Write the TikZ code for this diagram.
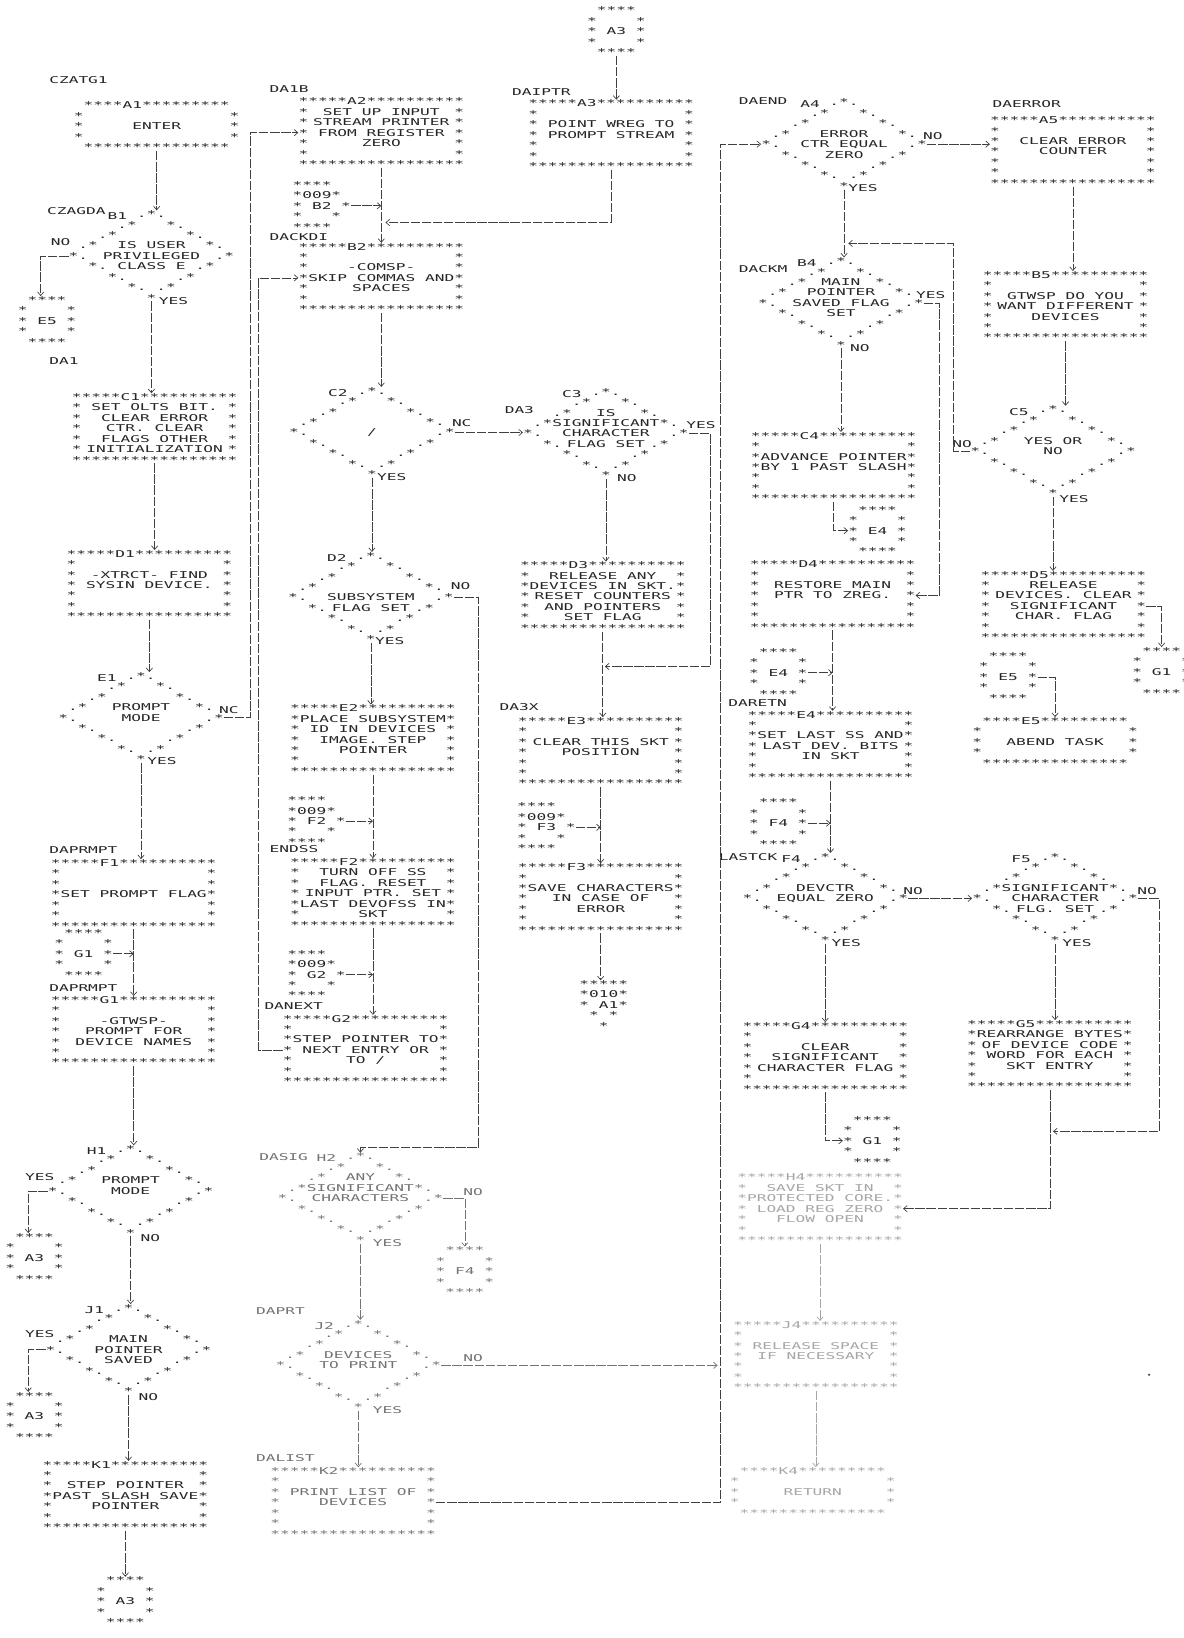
\documentclass[tikz,border=0pt]{standalone}
\usepackage{fontspec}
\newfontfamily\lpmono[FakeStretch=1.72]{DejaVu Sans Mono}
\usetikzlibrary{arrows.meta}
\newcommand\ascfont{\lpmono\fontsize{9}{10}\selectfont}
\makeatletter
\def\asc#1{\leavevmode\asc@loop#1\relax}
\def\asc@loop#1{\ifx#1\relax\else\ifx#1_\phantom{0}\else#1\fi\expandafter\asc@loop\fi}
\makeatother
\newcommand\Drow[2]{\leavevmode\setbox0=\hbox{\asc{#1}}\rlap{\copy0}\hbox to \wd0{\hss#2\hss}}
\newcommand\Brow[1]{\Drow{*_______________*}{#1}}
\newcommand\Trow[1]{\asc{*****}#1\asc{**********}}
\newcommand\Brule{\asc{*****************}}
\newcommand\PBox[9][]{\node[asc,#1] (#2) at (#3) {\Trow{#4}\\\Brow{#5}\\\Brow{#6}\\\Brow{#7}\\\Brow{#8}\\\Brow{#9}\\\Brule};}
\newcommand\DBox[9][]{\node[asc,#1] (#2) at (#3) {\asc{____}\smash{\raisebox{-2pt}{#4}}\asc{_.*._______}\\\asc{_____.*___*._____}\\\Drow{___.*_______*.___}{#5}\\\Drow{_.*___________*._}{#6}\\\Drow{*._____________.*}{#7}\\\Drow{__*._________.*__}{#8}\\\Drow{____*._____.*____}{#9}\\\asc{______*._.*______}\\\asc{________*________}};}
\newcommand\TBox[5][]{\node[asc,#1] (#2) at (#3) {\asc{_****}#4\asc{*********_}\\\asc{*_______________*}\\\Brow{#5}\\\asc{*_______________*}\\\asc{_***************_}};}
\newcommand\CBox[4][]{\node[asc,#1] (#2) at (#3) {\asc{_****_}\\\asc{*____*}\\\Drow{*____*}{#4}\\\asc{*____*}\\\asc{_****_}};}
\newcommand\OBox[5][]{\node[asc,#1] (#2) at (#3) {\asc{****__}\\\asc{*}#4\asc{*_}\\\asc{*_}#5\asc{_*}\\\asc{*___*_}\\\asc{****__}};}
\newcommand\XBox[5][]{\node[asc,#1] (#2) at (#3) {\asc{*****}\\\asc{*}#4\asc{*}\\\asc{*_}#5\asc{*}\\\asc{_*_*_}\\\asc{__*__}};}
\begin{document}
\begin{tikzpicture}[x=1pt,y=-1pt,
  asc/.style={font=\ascfont, align=left, inner sep=0pt, text=black!85},
  light/.style={text=black!55},
  faint/.style={text=black!35},
  lbl/.style={font=\ascfont, inner sep=0pt, text=black!85},
  conn/.style={draw=black!75, line width=0.65pt, dash pattern=on 9pt off 1.6pt,
    -{Straight Barb[length=3.5pt,width=6pt,line width=0.65pt]}},
  faintl/.style={draw=black!35}]
\fill[white] (0,0) rectangle (1133,1568);
\useasboundingbox (0,0) rectangle (1133,1568);

% ---------------- column 1
\node[lbl,anchor=west] (lCZATG1) at (47,77) {CZATG1};
\TBox{A1}{150,121}{A1}{ENTER}
\node[lbl,anchor=west] (lCZAGDA) at (45,202) {CZAGDA};
\DBox{B1}{145,245}{B1}{}{IS USER}{PRIVILEGED}{CLASS E}{}
\node[lbl] (nB1) at (58,232) {NO};
\node[lbl] (yB1) at (166,288) {YES};
\CBox{E5c}{45,307}{E5}
\node[lbl,anchor=west] (lDA1) at (47,346) {DA1};
\PBox{C1}{148,410}{C1}{SET OLTS BIT.}{CLEAR ERROR}{CTR. CLEAR}{FLAGS OTHER}{INITIALIZATION}
\PBox{D1}{143,560}{D1}{}{-XTRCT- FIND}{SYSIN DEVICE.}{}{}
\DBox{E1}{135,687}{E1}{}{PROMPT}{MODE}{}{}
\node[lbl] (nE1) at (219,680) {NC};
\node[lbl] (yE1) at (155,729) {YES};
\node[lbl,anchor=west] (lDAPRMPT1) at (47,814) {DAPRMPT};
\PBox{F1}{128,856}{F1}{}{}{SET PROMPT FLAG}{}{}
\CBox{G1c}{80,913}{G1}
\node[lbl,anchor=west] (lDAPRMPT2) at (47,946) {DAPRMPT};
\PBox{G1}{128,987}{G1}{}{-GTWSP-}{PROMPT FOR}{DEVICE NAMES}{}
\DBox{H1}{125,1140}{H1}{}{PROMPT}{MODE}{}{}
\node[lbl] (yH1) at (38,1127) {YES};
\node[lbl] (nH1) at (144,1185) {NO};
\CBox{A3a}{33,1204}{A3}
\DBox{J1}{123,1292}{J1}{}{MAIN}{POINTER}{SAVED}{}
\node[lbl] (yJ1) at (38,1277) {YES};
\node[lbl] (nJ1) at (142,1337) {NO};
\CBox{A3b}{33,1356}{A3}
\PBox{K1}{120,1432}{K1}{}{STEP POINTER}{PAST SLASH SAVE}{POINTER}{}
\CBox{A3c}{120,1533}{A3}

% ---------------- column 2
\node[lbl,anchor=west] (lDA1B) at (258,85) {DA1B};
\PBox{A2}{365,127}{A2}{SET UP INPUT}{STREAM PRINTER}{FROM REGISTER}{ZERO}{}
\OBox{B2o}{308,197}{009}{B2}
\node[lbl,anchor=west] (lDACKDI) at (258,227) {DACKDI};
\PBox{B2}{365,266}{B2}{}{-COMSP-}{SKIP COMMAS AND}{SPACES}{}
\DBox{C2}{356,414}{C2}{}{}{/}{}{}
\node[lbl] (nC2) at (442,405) {NC};
\node[lbl] (yC2) at (375,457) {YES};
\DBox{D2}{355,572}{D2}{}{}{SUBSYSTEM}{FLAG SET}{}
\node[lbl] (nD2) at (441,561) {NO};
\node[lbl] (yD2) at (373,614) {YES};
\PBox{E2}{357,708}{E2}{PLACE SUBSYSTEM}{ID IN DEVICES}{IMAGE. STEP}{POINTER}{}
\OBox{F2o}{303,786}{009}{F2}
\node[lbl,anchor=west] (lENDSS) at (258,813) {ENDSS};
\PBox{F2}{357,855}{F2}{TURN OFF SS}{FLAG. RESET}{INPUT PTR. SET}{LAST DEVOFSS IN}{SKT}
\OBox{G2o}{303,933}{009}{G2}
\node[lbl,anchor=west] (lDANEXT) at (253,963) {DANEXT};
\PBox{G2}{350,1005}{G2}{}{STEP POINTER TO}{NEXT ENTRY OR}{TO /}{}
\node[lbl,anchor=west,light] (lDASIG) at (248,1108) {DASIG};
\DBox[light]{H2}{345,1147}{H2}{ANY}{SIGNIFICANT}{CHARACTERS}{}{}
\node[lbl,light] (nH2) at (453,1141) {NO};
\node[lbl,light] (yH2) at (371,1190) {YES};
\CBox[light]{F4c}{445,1217}{F4}
\node[lbl,anchor=west,light] (lDAPRT) at (245,1255) {DAPRT};
\DBox[light]{J2}{343,1307}{J2}{}{DEVICES}{TO PRINT}{}{}
\node[lbl,light] (nJ2) at (453,1300) {NO};
\node[lbl,light] (yJ2) at (371,1350) {YES};
\node[lbl,anchor=west,light] (lDALIST) at (245,1396) {DALIST};
\PBox[light]{K2}{338,1438}{K2}{}{PRINT LIST OF}{DEVICES}{}{}

% ---------------- column 3
\CBox{A3t}{590,30}{A3}
\node[lbl,anchor=west] (lDAIPTR) at (490,88) {DAIPTR};
\PBox{A3}{585,129}{A3}{}{POINT WREG TO}{PROMPT STREAM}{}{}
\node[lbl,anchor=west] (lDA3) at (483,393) {DA3};
\DBox{C3}{580,415}{C3}{IS}{SIGNIFICANT}{CHARACTER}{FLAG SET}{}
\node[lbl] (yC3) at (671,407) {YES};
\node[lbl] (nC3) at (600,458) {NO};
\PBox{D3}{577,571}{D3}{RELEASE ANY}{DEVICES IN SKT.}{RESET COUNTERS}{AND POINTERS}{SET FLAG}
\node[lbl,anchor=west] (lDA3X) at (478,677) {DA3X};
\PBox{E3}{575,720}{E3}{}{CLEAR THIS SKT}{POSITION}{}{}
\OBox{F3o}{523,792}{009}{F3}
\PBox{F3}{575,860}{F3}{}{SAVE CHARACTERS}{IN CASE OF}{ERROR}{}
\XBox{A1x}{578,962}{010}{A1}

% ---------------- column 4
\node[lbl,anchor=west] (lDAEND) at (707,97) {DAEND};
\DBox{A4}{808,138}{A4}{}{ERROR}{CTR EQUAL}{ZERO}{}
\node[lbl] (nA4) at (893,130) {NO};
\node[lbl] (yA4) at (826,180) {YES};
\node[lbl,anchor=west] (lDACKM) at (707,258) {DACKM};
\DBox{B4}{805,290}{B4}{MAIN}{POINTER}{SAVED FLAG}{SET}{}
\node[lbl] (yB4) at (891,282) {YES};
\node[lbl] (nB4) at (823,333) {NO};
\PBox{C4}{798,447}{C4}{}{ADVANCE POINTER}{BY 1 PAST SLASH}{}{}
\CBox{E4a}{840,508}{E4}
\PBox{D4}{797,570}{D4}{}{RESTORE MAIN}{PTR TO ZREG.}{}{}
\CBox{E4b}{745,644}{E4}
\node[lbl,anchor=west] (lDARETN) at (697,673) {DARETN};
\PBox{E4}{795,714}{E4}{}{SET LAST SS AND}{LAST DEV. BITS}{IN SKT}{}
\CBox{F4b}{745,788}{F4}
\node[lbl,anchor=west] (lLASTCK) at (688,820) {LASTCK};
\DBox{F4}{790,860}{F4}{}{DEVCTR}{EQUAL ZERO}{}{}
\node[lbl] (nF4) at (874,853) {NO};
\node[lbl] (yF4) at (810,903) {YES};
\PBox{G4}{790,1012}{G4}{}{CLEAR}{SIGNIFICANT}{CHARACTER FLAG}{}
\CBox{G1d}{835,1092}{G1}
\PBox[faint]{H4}{785,1157}{H4}{SAVE SKT IN}{PROTECTED CORE.}{LOAD REG ZERO}{FLOW OPEN}{}
\PBox[faint]{J4}{781,1298}{J4}{}{RELEASE SPACE}{IF NECESSARY}{}{}
\TBox[faint]{K4}{778,1428}{K4}{RETURN}

% ---------------- column 5
\node[lbl,anchor=west] (lDAERROR) at (950,100) {DAERROR};
\PBox{A5}{1027,145}{A5}{}{CLEAR ERROR}{COUNTER}{}{}
\PBox{B5}{1020,293}{B5}{}{GTWSP DO YOU}{WANT DIFFERENT}{DEVICES}{}
\DBox{C5}{1008,432}{C5}{}{YES OR}{NO}{}{}
\node[lbl] (nC5) at (921,425) {NO};
\node[lbl] (yC5) at (1028,478) {YES};
\PBox{D5}{1018,580}{D5}{RELEASE}{DEVICES. CLEAR}{SIGNIFICANT}{CHAR. FLAG}{}
\CBox{G1e}{1112,643}{G1}
\CBox{E5d}{965,648}{E5}
\TBox{E5}{1010,710}{E5}{ABEND TASK}
\DBox{F5}{1010,860}{F5}{}{SIGNIFICANT}{CHARACTER}{FLG. SET}{}
\node[lbl] (nF5) at (1098,853) {NO};
\node[lbl] (yF5) at (1031,903) {YES};
\PBox{G5}{1005,1010}{G5}{REARRANGE BYTES}{OF DEVICE CODE}{WORD FOR EACH}{SKT ENTRY}{}

% ---------------- bend points
\coordinate (vx) at (690,0);
\coordinate (vtop) at (690,138);
\coordinate (m1) at (369,213);
\coordinate (m2) at (458,1098);
\coordinate (m4) at (680,638);
\coordinate (m5a) at (913,233);
\coordinate (m5) at (812,233);
\coordinate (m7) at (1008,1083);

% ---------------- connectors column 1
\draw[conn] (A1.south) -- (A1.south |- B1.north);
\draw[conn] (B1.west) -| ([xshift=-6pt]E5c.north);
\draw[conn] (B1.south) -- (B1.south |- C1.north);
\draw[conn] (C1.south) -- (C1.south |- D1.north);
\draw[conn] (D1.south) -- (D1.south |- E1.north);
\draw[conn] (E1.east) -- ++(25,0) |- (A2.west);
\draw[conn] (E1.south) -- (E1.south |- F1.north);
\draw[conn] (F1.south) -- (F1.south |- G1.north);
\draw[conn] (G1c.east) -- (G1c.east -| F1.south);
\draw[conn] (G1.south) -- (G1.south |- H1.north);
\draw[conn] (H1.west) -| ([xshift=-6pt]A3a.north);
\draw[conn] (H1.south) -- (H1.south |- J1.north);
\draw[conn] (J1.west) -| ([xshift=-6pt]A3b.north);
\draw[conn] (J1.south) -- (J1.south |- K1.north);
\draw[conn] (K1.south) -- (K1.south |- A3c.north);

% ---------------- connectors column 2
\draw[conn] (A2.south) -- (A2.south |- B2.north);
\draw[conn] (B2o.east) -- (B2o.east -| A2.south);
\draw[conn] (A3.south) |- (m1);
\draw[conn] (G2.west) -- ++(-23,0) |- (B2.west);
\draw[conn] (B2.south) -- (B2.south |- C2.north);
\draw[conn] (C2.east) -- (C2.east -| C3.west);
\draw[conn] (C2.south) -- (C2.south |- D2.north);
\draw[conn] (D2.east) -| (m2) -| (H2.north);
\draw[conn] (D2.south) -- (D2.south |- E2.north);
\draw[conn] (E2.south) -- (E2.south |- F2.north);
\draw[conn] (F2o.east) -- (F2o.east -| E2.south);
\draw[conn] (F2.south) -- (F2.south |- G2.north);
\draw[conn] (G2o.east) -- (G2o.east -| F2.south);
\draw[conn,draw=black!55] (H2.east) -| (F4c.north);
\draw[conn,draw=black!55] (H2.south) -- (H2.south |- J2.north);
\draw[conn,draw=black!55,shorten >=3pt] (J2.east) -- (J2.east -| vx);
\draw[conn,draw=black!55] (J2.south) -- (J2.south |- K2.north);
\draw[conn] (K2.east) -| (vtop) -- (A4.west);

% ---------------- connectors column 3
\draw[conn] (A3t.south) -- (A3t.south |- A3.north);
\draw[conn,shorten >=2pt] (C3.east) -| (m4) -- (m4 -| D3.south);
\draw[conn] (C3.south) -- (C3.south |- D3.north);
\draw[conn] (D3.south) -- (D3.south |- E3.north);
\draw[conn] (E3.south) -- (E3.south |- F3.north);
\draw[conn] (F3o.east) -- (F3o.east -| E3.south);
\draw[conn] (F3.south) -- (F3.south |- A1x.north);

% ---------------- connectors column 4
\draw[conn] (A4.east) -- (A4.east -| A5.west);
\draw[conn] (A4.south) -- (A4.south |- B4.north);
\draw[conn] (C5.west) -| (m5a) -- (m5);
\draw[conn] (B4.east) -- ++(15,0) |- (D4.east);
\draw[conn] (B4.south) -- (B4.south |- C4.north);
\draw[conn] (C4.south) |- (E4a.west);
\draw[conn] (D4.south) -- (D4.south |- E4.north);
\draw[conn] (E4b.east) -- (E4b.east -| D4.south);
\draw[conn] (E4.south) -- (E4.south |- F4.north);
\draw[conn] (F4b.east) -- (F4b.east -| E4.south);
\draw[conn] (F4.east) -- (F4.east -| F5.west);
\draw[conn] (F4.south) -- (F4.south |- G4.north);
\draw[conn] (G4.south) |- (G1d.west);
\draw[conn] (G5.south) |- (H4.east);
\draw[conn,faintl] (H4.south) -- (H4.south |- J4.north);
\draw[conn,faintl] (J4.south) -- (J4.south |- K4.north);

% ---------------- connectors column 5
\draw[conn] (A5.south) -- (A5.south |- B5.north);
\draw[conn] (B5.south) -- (B5.south |- C5.north);
\draw[conn] (C5.south) -- (C5.south |- D5.north);
\draw[conn] (D5.east) -| (G1e.north);
\draw[conn] (E5d.east) -| (E5.north);
\draw[conn] (F5.south) -- (F5.south |- G5.north);
\draw[conn] (F5.east) -- ++(20,0) |- (m7);

\fill[black!70] (1100,1316) circle (1.1pt);
\end{tikzpicture}
\end{document}
